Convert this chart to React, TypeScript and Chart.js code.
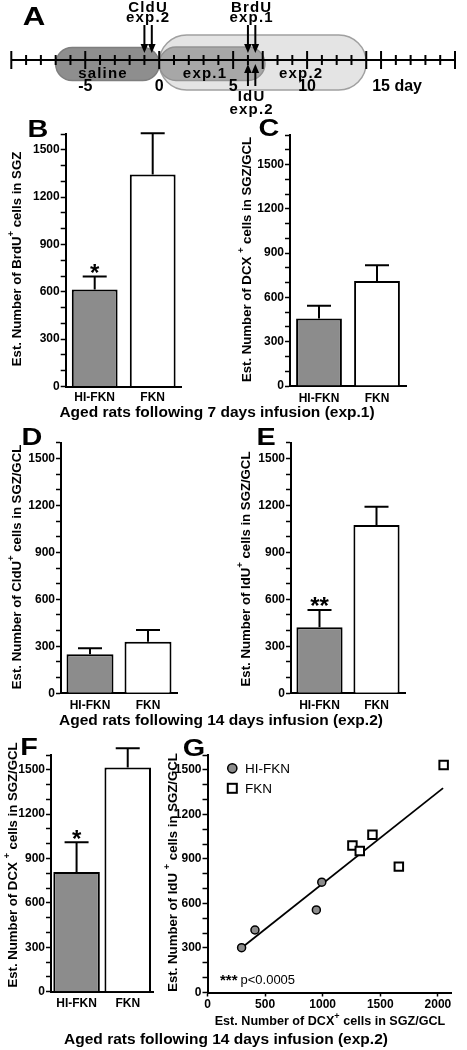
import React, { useEffect, useRef } from 'react';
import { Chart, registerables } from 'chart.js';

Chart.register(...registerables);

const FONT = "'Liberation Sans', Arial, Helvetica, sans-serif";
Chart.defaults.font.family = FONT;
Chart.defaults.color = '#000';

const GRAY = '#8c8c8c';

// ---------------- Panel A : timeline ----------------
const dayMin = -10;
const dayMax = 20;
const phaseNames = ['exp.2', 'saline', 'exp.1'];
const phaseStartDay = [0, -7, 0];
const phaseEndDay = [14, 0, 7.15];
const phaseLabelDay = [9.6, -3.8, 3.1];
const dayLabelValues = [-5, 0, 5, 10, 15];
const dayLabelTexts = ['-5', '0', '5', '10', '15'];
const dayUnitText = ' day';
const majorTickDays = [-10, -5, 0, 5, 7, 10, 14, 15, 20];
const cldUDays = [-1, -0.5];
const brdUDays = [6, 6.5];
const iduDays = [6, 6.5];

// ---------------- Bar panels ----------------
const groups = ['HI-FKN', 'FKN'];
const brduMean = [615, 1343];
const brduSem = [82, 262];
const brduSig = ['*', ''];
const dcx7Mean = [458, 711];
const dcx7Sem = [86, 106];
const dcx7Sig = ['', ''];
const cldu14Mean = [249, 329];
const cldu14Sem = [38, 75];
const cldu14Sig = ['', ''];
const idu14Mean = [421, 1075];
const idu14Sem = [111, 116];
const idu14Sig = ['**', ''];
const dcx14Mean = [809, 1515];
const dcx14Sem = [201, 131];
const dcx14Sig = ['*', ''];

// ---------------- Panel G : scatter ----------------
const hiDcx = [296, 412, 945, 992];
const hiIdu = [302, 421, 556, 743];
const fknDcx = [1258, 1322, 1432, 1661, 2050];
const fknIdu = [990, 954, 1062, 848, 1532];
const fitDcx = [300, 2045];
const fitIdu = [303, 1377];
const gXTicks = [0, 500, 1000, 1500, 2000];
const pText = 'p<0.0005';
const pStars = '***';

type TitleSpec = { pre: string; sup: string; post: string; x: number; y: number; size: number; rotate: boolean };

function drawRichTitle(ctx: CanvasRenderingContext2D, t: TitleSpec) {
  ctx.save();
  ctx.translate(t.x, t.y);
  if (t.rotate) ctx.rotate(-Math.PI / 2);
  ctx.fillStyle = '#000';
  ctx.textBaseline = 'middle';
  ctx.textAlign = 'left';
  const main = `bold ${t.size}px ${FONT}`;
  const sup = `bold ${t.size * 0.72}px ${FONT}`;
  ctx.font = main;
  const w1 = ctx.measureText(t.pre).width;
  const w3 = ctx.measureText(t.post).width;
  ctx.font = sup;
  const w2 = ctx.measureText(t.sup).width;
  let x = -(w1 + w2 + w3) / 2;
  ctx.font = main;
  ctx.fillText(t.pre, x, 0);
  x += w1;
  ctx.font = sup;
  ctx.fillText(t.sup, x, -t.size * 0.45);
  x += w2;
  ctx.font = main;
  ctx.fillText(t.post, x, 0);
  ctx.restore();
}

function pillPath(ctx: CanvasRenderingContext2D, x0: number, x1: number, y0: number, y1: number) {
  const r = (y1 - y0) / 2;
  ctx.beginPath();
  ctx.moveTo(x0 + r, y0);
  ctx.lineTo(x1 - r, y0);
  ctx.arc(x1 - r, y0 + r, r, -Math.PI / 2, Math.PI / 2);
  ctx.lineTo(x0 + r, y1);
  ctx.arc(x0 + r, y0 + r, r, Math.PI / 2, Math.PI * 1.5);
  ctx.closePath();
}

function arrow(ctx: CanvasRenderingContext2D, x: number, yFrom: number, yTip: number) {
  const dir = Math.sign(yTip - yFrom);
  const headL = 9;
  const headW = 3.8;
  ctx.beginPath();
  ctx.moveTo(x, yFrom);
  ctx.lineTo(x, yTip - dir * headL + dir);
  ctx.stroke();
  ctx.beginPath();
  ctx.moveTo(x, yTip);
  ctx.lineTo(x - headW, yTip - dir * headL);
  ctx.lineTo(x + headW, yTip - dir * headL);
  ctx.closePath();
  ctx.fill();
}

function setSpacing(ctx: any, v: string) {
  if ('letterSpacing' in ctx) ctx.letterSpacing = v;
}

const timelinePlugin = {
  id: 'timeline',
  afterDraw(chart: any) {
    const ctx: CanvasRenderingContext2D = chart.ctx;
    const xs = chart.scales.x;
    const X = (d: number) => xs.getPixelForValue(d);
    const axisY = 60;
    const pillBox = [[35, 90], [47.5, 80.5], [47, 80.5]];
    const pillFill = ['#e4e4e4', '#8e8e8e', '#a7a7a7'];
    const pillStroke = ['#a0a0a0', '#7e7e7e', '#939393'];
    ctx.save();
    phaseNames.forEach((_, i) => {
      pillPath(ctx, X(phaseStartDay[i]), X(phaseEndDay[i]), pillBox[i][0], pillBox[i][1]);
      ctx.fillStyle = pillFill[i];
      ctx.fill();
      ctx.lineWidth = 1.5;
      ctx.strokeStyle = pillStroke[i];
      ctx.stroke();
    });
    // axis line and ticks
    ctx.strokeStyle = '#000';
    ctx.fillStyle = '#000';
    ctx.lineWidth = 2;
    ctx.beginPath();
    ctx.moveTo(X(dayMin), axisY);
    ctx.lineTo(X(dayMax), axisY);
    ctx.stroke();
    for (let d = dayMin; d <= dayMax; d++) {
      const h = majorTickDays.includes(d) ? 9 : 5;
      ctx.beginPath();
      ctx.moveTo(X(d), axisY - h);
      ctx.lineTo(X(d), axisY + h);
      ctx.stroke();
    }
    // phase labels
    ctx.font = `bold 15px ${FONT}`;
    setSpacing(ctx, '1.2px');
    ctx.textAlign = 'center';
    ctx.textBaseline = 'alphabetic';
    phaseNames.forEach((n, i) => ctx.fillText(n, X(phaseLabelDay[i]), 77.5));
    // day labels
    setSpacing(ctx, '0px');
    ctx.font = `bold 16px ${FONT}`;
    dayLabelValues.forEach((d, i) => {
      if (i === dayLabelValues.length - 1) {
        const w = ctx.measureText(dayLabelTexts[i]).width;
        ctx.textAlign = 'left';
        ctx.fillText(dayLabelTexts[i] + dayUnitText, X(d) - w / 2, 90.5);
        ctx.textAlign = 'center';
      } else {
        ctx.fillText(dayLabelTexts[i], X(d), 90.5);
      }
    });
    // arrows
    ctx.lineWidth = 2;
    cldUDays.forEach((d) => arrow(ctx, X(d), 25, 53));
    brdUDays.forEach((d) => arrow(ctx, X(d), 25, 53));
    iduDays.forEach((d) => arrow(ctx, X(d), 86, 64));
    const mid = (a: number[]) => X((a[0] + a[1]) / 2);
    ctx.font = `bold 15px ${FONT}`;
    setSpacing(ctx, '1.2px');
    ctx.fillText('CldU', mid(cldUDays), 11.5);
    ctx.fillText('exp.2', mid(cldUDays), 21.5);
    ctx.fillText('BrdU', mid(brdUDays), 11.5);
    ctx.fillText('exp.1', mid(brdUDays), 21.5);
    ctx.fillText('IdU', mid(iduDays), 100.5);
    ctx.fillText('exp.2', mid(iduDays), 113.5);
    setSpacing(ctx, '0px');
    ctx.restore();
  },
};

function Timeline() {
  const ref = useRef<HTMLCanvasElement>(null);
  useEffect(() => {
    const chart = new Chart(ref.current as HTMLCanvasElement, {
      type: 'scatter',
      data: { datasets: [] },
      options: {
        animation: false,
        responsive: false,
        layout: { padding: { left: 11.3, right: 12, top: 0, bottom: 0 } },
        plugins: { legend: { display: false }, tooltip: { enabled: false } },
        scales: {
          x: { type: 'linear', min: dayMin, max: dayMax, display: false },
          y: { type: 'linear', min: 0, max: 1, display: false },
        },
      } as any,
      plugins: [timelinePlugin as any],
    });
    return () => chart.destroy();
  }, []);
  return (
    <canvas
      ref={ref}
      width={467}
      height={120}
      style={{ position: 'absolute', left: 0, top: 0, width: 467, height: 120 }}
    />
  );
}

function yAxisOptions(yMax: number, width: number) {
  return {
    min: 0,
    max: yMax,
    grid: { display: true, drawOnChartArea: false, drawTicks: true, tickLength: 5, tickWidth: 1.5, tickColor: '#000' },
    border: { display: true, color: '#000', width: 2 },
    ticks: {
      stepSize: 100,
      includeBounds: false,
      autoSkip: false,
      padding: 1,
      color: '#000',
      font: { size: 12, weight: 'bold' },
      callback: (v: any) => (Number(v) % 300 === 0 ? String(v) : ''),
    },
    afterFit: (s: any) => {
      s.width = width;
    },
  };
}

type BarPanelProps = {
  left: number;
  top: number;
  width: number;
  height: number;
  axisW: number;
  xH: number;
  padTop: number;
  padRight: number;
  yMax: number;
  tickPad: number;
  barPct: number;
  mean: number[];
  sem: number[];
  sig: string[];
  title: { pre: string; sup: string; post: string; x: number; y: number };
};

function BarPanel(p: BarPanelProps) {
  const ref = useRef<HTMLCanvasElement>(null);
  useEffect(() => {
    const titleSpec: TitleSpec = {
      pre: p.title.pre,
      sup: p.title.sup,
      post: p.title.post,
      x: p.title.x - p.left,
      y: p.title.y - p.top,
      size: 13.2,
      rotate: true,
    };
    const extras = {
      id: 'barExtras',
      afterDatasetsDraw(chart: any) {
        const ctx: CanvasRenderingContext2D = chart.ctx;
        const meta = chart.getDatasetMeta(0);
        const ys = chart.scales.y;
        const vals = chart.data.datasets[0].data as number[];
        ctx.save();
        ctx.strokeStyle = '#000';
        ctx.fillStyle = '#000';
        ctx.lineWidth = 2;
        for (let i = 0; i < p.sem.length; i++) {
          const bar = meta.data[i];
          const yTop = ys.getPixelForValue(vals[i] + p.sem[i]);
          ctx.beginPath();
          ctx.moveTo(bar.x, bar.y);
          ctx.lineTo(bar.x, yTop);
          ctx.moveTo(bar.x - 12, yTop);
          ctx.lineTo(bar.x + 12, yTop);
          ctx.stroke();
          if (p.sig[i]) {
            ctx.font = `bold 24px ${FONT}`;
            ctx.textAlign = 'center';
            ctx.textBaseline = 'alphabetic';
            ctx.fillText(p.sig[i], bar.x, yTop + 4.5);
          }
        }
        ctx.restore();
      },
      afterDraw(chart: any) {
        drawRichTitle(chart.ctx, titleSpec);
      },
    };
    const chart = new Chart(ref.current as HTMLCanvasElement, {
      type: 'bar',
      data: {
        labels: groups,
        datasets: [
          {
            data: p.mean,
            backgroundColor: [GRAY, '#ffffff'],
            borderColor: '#000',
            borderWidth: 2,
            barPercentage: p.barPct,
            categoryPercentage: 1,
          },
        ],
      },
      options: {
        animation: false,
        responsive: false,
        layout: { padding: { left: 0, top: p.padTop, right: p.padRight, bottom: 0 } },
        plugins: { legend: { display: false }, tooltip: { enabled: false } },
        scales: {
          x: {
            grid: { display: false, drawTicks: false },
            border: { display: true, color: '#000', width: 2 },
            ticks: { padding: p.tickPad, color: '#000', font: { size: 12, weight: 'bold' }, maxRotation: 0 },
            afterFit: (s: any) => {
              s.height = p.xH;
            },
          },
          y: yAxisOptions(p.yMax, p.axisW),
        },
      } as any,
      plugins: [extras as any],
    });
    return () => chart.destroy();
  }, []);
  return (
    <canvas
      ref={ref}
      width={p.width}
      height={p.height}
      style={{ position: 'absolute', left: p.left, top: p.top, width: p.width, height: p.height }}
    />
  );
}

function ScatterPanel() {
  const ref = useRef<HTMLCanvasElement>(null);
  const left = 160;
  const top = 735;
  useEffect(() => {
    const yTitle: TitleSpec = {
      pre: 'Est. Number of IdU ',
      sup: '+',
      post: ' cells in SGZ/GCL',
      x: 173.5 - left,
      y: 872.5 - top,
      size: 13.2,
      rotate: true,
    };
    const xTitle: TitleSpec = {
      pre: 'Est. Number of DCX',
      sup: '+',
      post: ' cells in SGZ/GCL',
      x: 330 - left,
      y: 1022 - top,
      size: 12.6,
      rotate: false,
    };
    const extras = {
      id: 'scatterExtras',
      afterDraw(chart: any) {
        const ctx: CanvasRenderingContext2D = chart.ctx;
        const ca = chart.chartArea;
        const ds = chart.data.datasets;
        ctx.save();
        // legend
        const lx = ca.left + 24.8;
        ctx.lineWidth = 1.5;
        ctx.strokeStyle = '#000';
        ctx.fillStyle = ds[0].backgroundColor;
        ctx.beginPath();
        ctx.arc(lx, ca.top + 13.3, 4.6, 0, Math.PI * 2);
        ctx.fill();
        ctx.stroke();
        ctx.lineWidth = 2;
        ctx.fillStyle = ds[1].backgroundColor;
        ctx.fillRect(lx - 4.5, ca.top + 33.3 - 4.5, 9, 9);
        ctx.strokeRect(lx - 4.5, ca.top + 33.3 - 4.5, 9, 9);
        ctx.fillStyle = '#000';
        ctx.font = `13.5px ${FONT}`;
        ctx.textAlign = 'left';
        ctx.textBaseline = 'middle';
        ctx.fillText(ds[0].label, ca.left + 37.5, ca.top + 13.8);
        ctx.fillText(ds[1].label, ca.left + 37.5, ca.top + 33.8);
        // p-value
        ctx.textBaseline = 'alphabetic';
        ctx.font = `bold 15px ${FONT}`;
        ctx.fillText(pStars, ca.left + 12.5, ca.bottom - 7.5);
        ctx.font = `13px ${FONT}`;
        ctx.fillText(pText, ca.left + 33, ca.bottom - 8.5);
        ctx.restore();
        drawRichTitle(ctx, yTitle);
        drawRichTitle(ctx, xTitle);
      },
    };
    const chart = new Chart(ref.current as HTMLCanvasElement, {
      type: 'scatter',
      data: {
        datasets: [
          {
            label: 'HI-FKN',
            data: hiDcx.map((x, i) => ({ x, y: hiIdu[i] })),
            pointStyle: 'circle',
            pointRadius: 4,
            backgroundColor: GRAY,
            borderColor: '#000',
            borderWidth: 1.5,
          },
          {
            label: 'FKN',
            data: fknDcx.map((x, i) => ({ x, y: fknIdu[i] })),
            pointStyle: 'rect',
            pointRadius: 6,
            backgroundColor: '#ffffff',
            borderColor: '#000',
            borderWidth: 2,
          },
          {
            type: 'line',
            label: 'fit',
            data: fitDcx.map((x, i) => ({ x, y: fitIdu[i] })),
            showLine: true,
            borderColor: '#000',
            borderWidth: 1.8,
            pointRadius: 0,
            fill: false,
          },
        ],
      } as any,
      options: {
        animation: false,
        responsive: false,
        layout: { padding: { left: 0, top: 20, right: 15.3, bottom: 0 } },
        plugins: { legend: { display: false }, tooltip: { enabled: false } },
        scales: {
          x: {
            type: 'linear',
            min: 0,
            max: 2120,
            grid: { display: true, drawOnChartArea: false, drawTicks: true, tickLength: 4, tickWidth: 1.5, tickColor: '#000' },
            border: { display: true, color: '#000', width: 2 },
            afterBuildTicks: (s: any) => {
              s.ticks = gXTicks.map((v) => ({ value: v }));
            },
            ticks: {
              autoSkip: false,
              padding: 0.5,
              maxRotation: 0,
              color: '#000',
              font: { size: 12, weight: 'bold' },
              callback: (v: any) => String(v),
            },
            afterFit: (s: any) => {
              s.height = 42.5;
            },
          },
          y: yAxisOptions(1600, 47.5),
        },
      } as any,
      plugins: [extras as any],
    });
    return () => chart.destroy();
  }, []);
  return (
    <canvas
      ref={ref}
      width={307}
      height={300}
      style={{ position: 'absolute', left, top, width: 307, height: 300 }}
    />
  );
}

const panelLetters = [
  { t: 'A', x: 34, y: 16, s: 26 },
  { t: 'B', x: 37.5, y: 128.5, s: 24 },
  { t: 'C', x: 269, y: 127.5, s: 24 },
  { t: 'D', x: 32, y: 437, s: 24 },
  { t: 'E', x: 266, y: 437, s: 24 },
  { t: 'F', x: 28.5, y: 747, s: 24 },
  { t: 'G', x: 194, y: 748, s: 24 },
];

const groupTitles = [
  { t: 'Aged rats following 7 days infusion (exp.1)', x: 217, y: 412 },
  { t: 'Aged rats following 14 days infusion (exp.2)', x: 221, y: 720 },
  { t: 'Aged rats following 14 days infusion (exp.2)', x: 226, y: 1038.5 },
];

export default function App() {
  return (
    <div
      style={{
        position: 'absolute',
        left: 0,
        top: 0,
        width: 467,
        height: 1050,
        background: '#fff',
        fontFamily: FONT,
        overflow: 'hidden',
      }}
    >
      <Timeline />
      <BarPanel
        left={0} top={115} width={230} height={300} axisW={65.7} xH={28.5} padTop={19} padRight={48.3}
        yMax={1600} tickPad={4.3} barPct={0.79} mean={brduMean} sem={brduSem} sig={brduSig}
        title={{ pre: 'Est. Number of BrdU', sup: '+', post: ' cells in SGZ', x: 17.5, y: 259 }}
      />
      <BarPanel
        left={230} top={115} width={237} height={300} axisW={60} xH={29} padTop={20} padRight={61}
        yMax={1700} tickPad={5} barPct={0.79} mean={dcx7Mean} sem={dcx7Sem} sig={dcx7Sig}
        title={{ pre: 'Est. Number of DCX ', sup: '+', post: ' cells in SGZ/GCL', x: 247, y: 259.5 }}
      />
      <BarPanel
        left={0} top={425} width={230} height={300} axisW={61} xH={31.7} padTop={17.7} padRight={53}
        yMax={1600} tickPad={5.5} barPct={0.81} mean={cldu14Mean} sem={cldu14Sem} sig={cldu14Sig}
        title={{ pre: 'Est. Number of CldU', sup: '+', post: ' cells in SGZ/GCL', x: 17.5, y: 567 }}
      />
      <BarPanel
        left={230} top={425} width={237} height={300} axisW={61} xH={31.7} padTop={17.7} padRight={62}
        yMax={1600} tickPad={5.5} barPct={0.81} mean={idu14Mean} sem={idu14Sem} sig={idu14Sig}
        title={{ pre: 'Est. Number of IdU', sup: '+', post: ' cells in SGZ/GCL', x: 246.5, y: 569 }}
      />
      <BarPanel
        left={0} top={735} width={200} height={285} axisW={51} xH={28.3} padTop={20} padRight={46.7}
        yMax={1600} tickPad={4.4} barPct={0.91} mean={dcx14Mean} sem={dcx14Sem} sig={dcx14Sig}
        title={{ pre: 'Est. Number of DCX ', sup: '+', post: ' cells in SGZ/GCL', x: 13, y: 865 }}
      />
      <ScatterPanel />
      {panelLetters.map((l) => (
        <div
          key={l.t}
          style={{
            position: 'absolute',
            left: l.x,
            top: l.y,
            transform: 'translate(-50%, -50%) scaleX(1.2)',
            fontSize: l.s,
            lineHeight: 1,
            fontWeight: 'bold',
            whiteSpace: 'nowrap',
          }}
        >
          {l.t}
        </div>
      ))}
      {groupTitles.map((g, i) => (
        <div
          key={i}
          style={{
            position: 'absolute',
            left: g.x,
            top: g.y,
            transform: 'translate(-50%, -50%)',
            fontSize: 15.5,
            lineHeight: 1,
            fontWeight: 'bold',
            whiteSpace: 'nowrap',
          }}
        >
          {g.t}
        </div>
      ))}
    </div>
  );
}
